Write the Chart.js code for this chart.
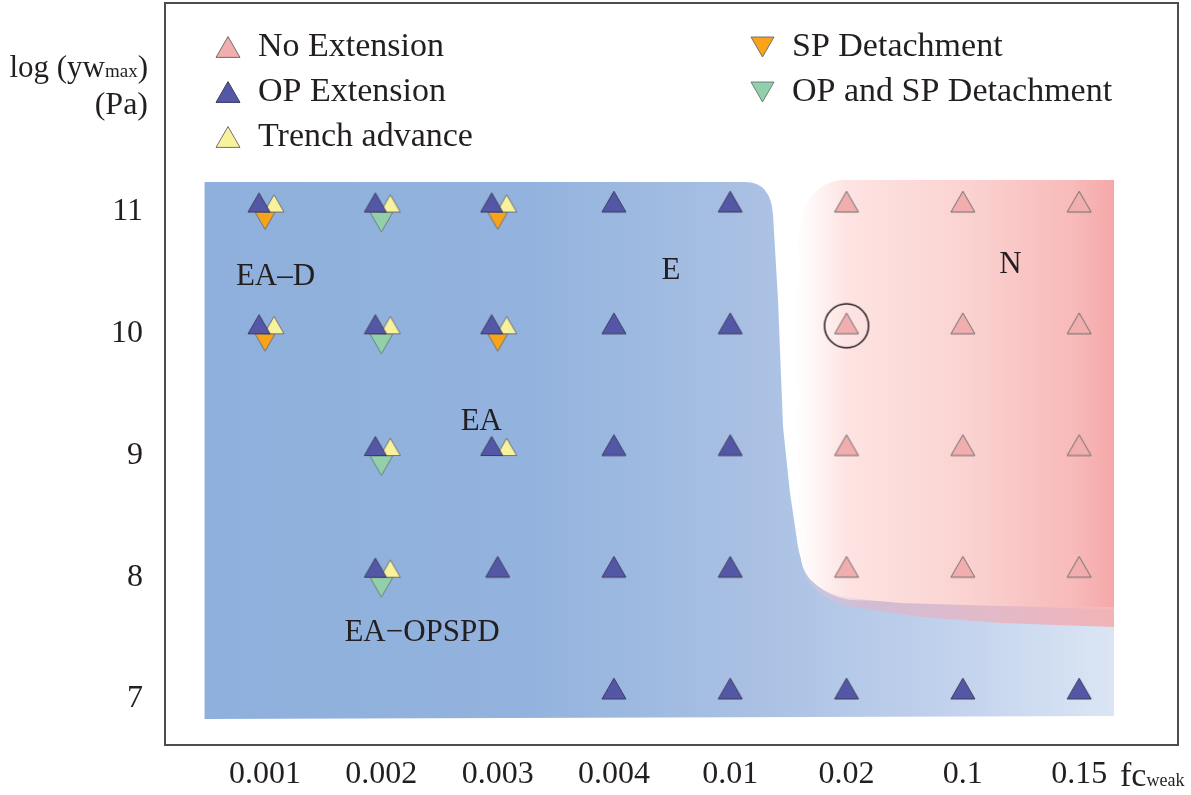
<!DOCTYPE html>
<html>
<head>
<meta charset="utf-8">
<script src="https://cdn.jsdelivr.net/npm/chart.js@4.4.1/dist/chart.umd.min.js"></script>
<style>
  html, body { margin: 0; padding: 0; background: #fff; }
  canvas { display: block; }
</style>
</head>
<body>
<canvas id="chart" width="1191" height="795"></canvas>
<script>
// categories and ticks
const fcWeak = ['0.001', '0.002', '0.003', '0.004', '0.01', '0.02', '0.1', '0.15'];
const logYwTicks = [7, 8, 9, 10, 11];

// log(yw_max) values where each outcome was found, one list per fc column
const noExtension    = [[], [], [], [], [], [11, 10, 9, 8], [11, 10, 9, 8], [11, 10, 9, 8]];
const opExtension    = [[11, 10], [11, 10, 9, 8], [11, 10, 9, 8], [11, 10, 9, 8, 7], [11, 10, 9, 8, 7], [7], [7], [7]];
const trenchAdvance  = [[11, 10], [11, 10, 9, 8], [11, 10, 9], [], [], [], [], []];
const spDetachment   = [[11, 10], [], [11, 10], [], [], [], [], []];
const opSpDetachment = [[], [11, 10, 9, 8], [], [], [], [], [], []];
const highlighted    = [[], [], [], [], [], [10], [], []];

// regime labels, in data units
const regimeLabels = [
    { text: 'EA–D', x: 0.09, y: 10.47 },
    { text: 'E', x: 3.49, y: 10.52 },
    { text: 'N', x: 6.41, y: 10.57 },
    { text: 'EA', x: 1.86, y: 9.28 },
    { text: 'EA−OPSPD', x: 1.35, y: 7.54 }
];

// regime area outlines, in data units
const blueArea = [
    ['M', -0.52, 11.246], ['L', 4.127, 11.246], ['Q', 4.351, 11.246, 4.368, 10.975],
    ['L', 4.411, 10.277], ['L', 4.454, 9.234], ['L', 4.514, 8.692], ['L', 4.574, 8.306],
    ['Q', 4.626, 7.879, 5.03, 7.813], ['L', 7.3, 7.733], ['L', 7.3, 6.86], ['L', -0.52, 6.836]
];
const pinkArea = [
    ['M', 5.004, 11.263], ['L', 7.3, 11.263], ['L', 7.3, 7.756], ['L', 6.32, 7.764],
    ['L', 5.46, 7.789], ['L', 5.03, 7.83], ['Q', 4.652, 7.895, 4.609, 8.142],
    ['L', 4.574, 9.456], ['L', 4.583, 10.606], ['Q', 4.574, 11.263, 5.004, 11.263]
];
const pinkShadow = [
    ['M', 5.004, 11.263], ['L', 7.3, 11.263], ['L', 7.3, 7.591], ['L', 6.32, 7.624],
    ['L', 5.632, 7.674], ['L', 5.03, 7.76], ['Q', 4.652, 7.846, 4.609, 8.142],
    ['L', 4.574, 9.456], ['L', 4.583, 10.606], ['Q', 4.574, 11.263, 5.004, 11.263]
];

const INK = '#231f20';
const SERIF = "'Liberation Serif', 'DejaVu Serif', serif";

function toPoints(cols) {
    return cols.flatMap((ys, i) => ys.map(y => ({ x: i, y })));
}

function cellHas(cols, raw) {
    return !!raw && (cols[raw.x] || []).includes(raw.y);
}

// triangle glyph; anchor is the canvas centre
function triangle(side, fill, stroke, dx, down, centred) {
    const h = side * Math.sqrt(3) / 2;
    const w = Math.ceil(2 * (side / 2 + Math.abs(dx)) + 4);
    const H = Math.ceil(2 * h + 4);
    const c = document.createElement('canvas');
    c.width = w;
    c.height = H;
    const g = c.getContext('2d');
    const cx = w / 2 + dx;
    let edge = H / 2;
    if (centred) edge = down ? H / 2 - h / 2 : H / 2 + h / 2;
    const tip = down ? edge + h : edge - h;
    g.beginPath();
    g.moveTo(cx - side / 2, edge);
    g.lineTo(cx + side / 2, edge);
    g.lineTo(cx, tip);
    g.closePath();
    g.fillStyle = fill;
    g.fill();
    g.lineWidth = 1;
    g.strokeStyle = stroke;
    g.stroke();
    return c;
}

function ring(r, lift) {
    const c = document.createElement('canvas');
    c.width = 2 * r + 4;
    c.height = 2 * (r + lift) + 4;
    const g = c.getContext('2d');
    g.beginPath();
    g.arc(c.width / 2, c.height / 2 - lift, r, 0, Math.PI * 2);
    g.lineWidth = 1.5;
    g.strokeStyle = INK;
    g.stroke();
    return c;
}

const colors = {
    pink: '#f2aeae', blue: '#5457a6', yellow: '#f8f29c', orange: '#f9a31b', green: '#92d0ac'
};

const marks = {
    pink: triangle(24, colors.pink, '#6d6d6d', 0, false),
    blue: triangle(24, colors.blue, '#3c3c5c', 0, false),
    blueLeft: triangle(22, colors.blue, '#3c3c5c', -6, false),
    yellow: triangle(20, colors.yellow, '#707070', 9, false),
    orange: triangle(20, colors.orange, '#707070', 0, true),
    green: triangle(23, colors.green, '#6b7f74', 0, true),
    ring: ring(22, 8)
};

const legendMarks = [
    triangle(24, colors.pink, '#6d6d6d', 0, false, true),
    triangle(24, colors.blue, '#3c3c5c', 0, false, true),
    triangle(24, colors.yellow, '#707070', 0, false, true),
    triangle(23, colors.orange, '#707070', 0, true, true),
    triangle(23, colors.green, '#6b7f74', 0, true, true)
];

function tracePath(ctx, chart, cmds) {
    const sx = chart.scales.x, sy = chart.scales.y;
    const px = v => sx.getPixelForValue(v), py = v => sy.getPixelForValue(v);
    ctx.beginPath();
    cmds.forEach(c => {
        if (c[0] === 'M') ctx.moveTo(px(c[1]), py(c[2]));
        else if (c[0] === 'L') ctx.lineTo(px(c[1]), py(c[2]));
        else ctx.quadraticCurveTo(px(c[1]), py(c[2]), px(c[3]), py(c[4]));
    });
    ctx.closePath();
}

const regimePlugin = {
    id: 'regimes',
    beforeDatasetsDraw(chart) {
        const ctx = chart.ctx;
        const sx = chart.scales.x;
        ctx.save();

        const bx0 = sx.getPixelForValue(-0.52), bx1 = sx.getPixelForValue(7.3);
        const blue = ctx.createLinearGradient(bx0, 0, bx1, 0);
        blue.addColorStop(0, '#8fb0dc');
        blue.addColorStop(0.36, '#93b3de');
        blue.addColorStop(0.6, '#a9c0e3');
        blue.addColorStop(0.8, '#bfd0ec');
        blue.addColorStop(1, '#dbe5f4');
        tracePath(ctx, chart, blueArea);
        ctx.fillStyle = blue;
        ctx.fill();

        const px0 = sx.getPixelForValue(4.574);
        const pink = ctx.createLinearGradient(px0, 0, bx1, 0);
        pink.addColorStop(0, '#ffffff');
        pink.addColorStop(0.16, '#fde3e2');
        pink.addColorStop(0.53, '#fad3d1');
        pink.addColorStop(0.87, '#f8baba');
        pink.addColorStop(1, '#f5a8a9');
        const shade = ctx.createLinearGradient(px0, 0, bx1, 0);
        shade.addColorStop(0, 'rgba(240,200,215,0.3)');
        shade.addColorStop(0.2, 'rgba(225,180,200,0.6)');
        shade.addColorStop(1, 'rgba(245,170,172,0.85)');
        tracePath(ctx, chart, pinkShadow);
        ctx.fillStyle = shade;
        ctx.fill();
        tracePath(ctx, chart, pinkArea);
        ctx.fillStyle = pink;
        ctx.fill();

        ctx.fillStyle = INK;
        ctx.font = '31px ' + SERIF;
        ctx.textAlign = 'center';
        ctx.textBaseline = 'middle';
        regimeLabels.forEach(l => {
            ctx.fillText(l.text, sx.getPixelForValue(l.x), chart.scales.y.getPixelForValue(l.y));
        });
        ctx.restore();
    },
    afterDraw(chart) {
        const ctx = chart.ctx;
        const a = chart.chartArea;
        ctx.save();
        ctx.strokeStyle = '#4d4d4d';
        ctx.lineWidth = 2;
        ctx.strokeRect(a.left, a.top, a.right - a.left, a.bottom - a.top);

        // legend, two columns inside the frame
        ctx.fillStyle = INK;
        ctx.font = '34px ' + SERIF;
        ctx.textAlign = 'left';
        ctx.textBaseline = 'middle';
        const slots = [[63, 0], [63, 1], [63, 2], [597, 0], [597, 1]];
        chart.data.datasets.filter(d => d.inLegend).forEach((d, i) => {
            const mx = a.left + slots[i][0];
            const my = a.top + 44 + 45 * slots[i][1];
            const m = legendMarks[i];
            ctx.drawImage(m, Math.round(mx - m.width / 2), Math.round(my - m.height / 2));
            ctx.fillText(d.label, mx + 30, my);
        });

        // axis titles with subscripts
        ctx.textBaseline = 'alphabetic';
        const big = '31px ' + SERIF, small = '19px ' + SERIF;
        ctx.font = big;
        const wClose = ctx.measureText(')').width;
        ctx.font = small;
        const wMax = ctx.measureText('max').width;
        ctx.font = big;
        const right = a.left - 17;
        ctx.textAlign = 'right';
        ctx.fillText(')', right, 77);
        ctx.font = small;
        ctx.fillText('max', right - wClose, 77);
        ctx.font = big;
        ctx.fillText('log (yw', right - wClose - wMax, 77);
        ctx.font = '32px ' + SERIF;
        ctx.fillText('(Pa)', right, 114);

        ctx.textAlign = 'left';
        ctx.font = '34px ' + SERIF;
        const fx = a.right - 58;
        ctx.fillText('fc', fx, 786);
        const wfc = ctx.measureText('fc').width;
        ctx.font = '18px ' + SERIF;
        ctx.fillText('weak', fx + wfc, 786);
        ctx.restore();
    }
};

const datasets = [
    {
        label: 'No Extension', inLegend: true,
        data: toPoints(noExtension),
        pointStyle: marks.pink
    },
    {
        label: 'OP Extension', inLegend: true,
        data: toPoints(opExtension),
        pointStyle: c => cellHas(trenchAdvance, c.raw) ? marks.blueLeft : marks.blue
    },
    {
        label: 'Trench advance', inLegend: true,
        data: toPoints(trenchAdvance),
        pointStyle: marks.yellow
    },
    {
        label: 'SP Detachment', inLegend: true,
        data: toPoints(spDetachment),
        pointStyle: marks.orange
    },
    {
        label: 'OP and SP Detachment', inLegend: true,
        data: toPoints(opSpDetachment),
        pointStyle: marks.green
    },
    {
        label: 'highlight', inLegend: false,
        data: toPoints(highlighted),
        pointStyle: marks.ring
    }
].map(d => Object.assign({ pointRadius: 10, pointHoverRadius: 10 }, d));

function noPadding(s) {
    s.paddingTop = 0;
    s.paddingBottom = 0;
    s.paddingLeft = 0;
    s.paddingRight = 0;
}

new Chart(document.getElementById('chart'), {
    type: 'scatter',
    data: { datasets },
    plugins: [regimePlugin],
    options: {
        responsive: false,
        animation: false,
        layout: { autoPadding: false, padding: { top: 3, right: 13, left: 0, bottom: 0 } },
        plugins: {
            legend: { display: false },
            tooltip: { enabled: false }
        },
        scales: {
            x: {
                type: 'linear',
                min: -0.86,
                max: 7.85,
                afterBuildTicks: s => { s.ticks = fcWeak.map((_, i) => ({ value: i })); },
                afterFit: s => { s.height = 50; noPadding(s); },
                grid: { display: false, drawTicks: false },
                border: { display: false },
                ticks: {
                    autoSkip: false,
                    maxRotation: 0,
                    padding: 10,
                    color: INK,
                    font: { family: SERIF, size: 32 },
                    callback: v => fcWeak[v]
                }
            },
            y: {
                min: 6.622,
                max: 12.717,
                afterBuildTicks: s => { s.ticks = logYwTicks.map(v => ({ value: v })); },
                afterFit: s => { s.width = 165; noPadding(s); },
                grid: { display: false, drawTicks: false },
                border: { display: false },
                ticks: {
                    padding: 22,
                    color: INK,
                    font: { family: SERIF, size: 32 },
                    callback: v => String(v)
                }
            }
        }
    }
});
</script>
</body>
</html>
